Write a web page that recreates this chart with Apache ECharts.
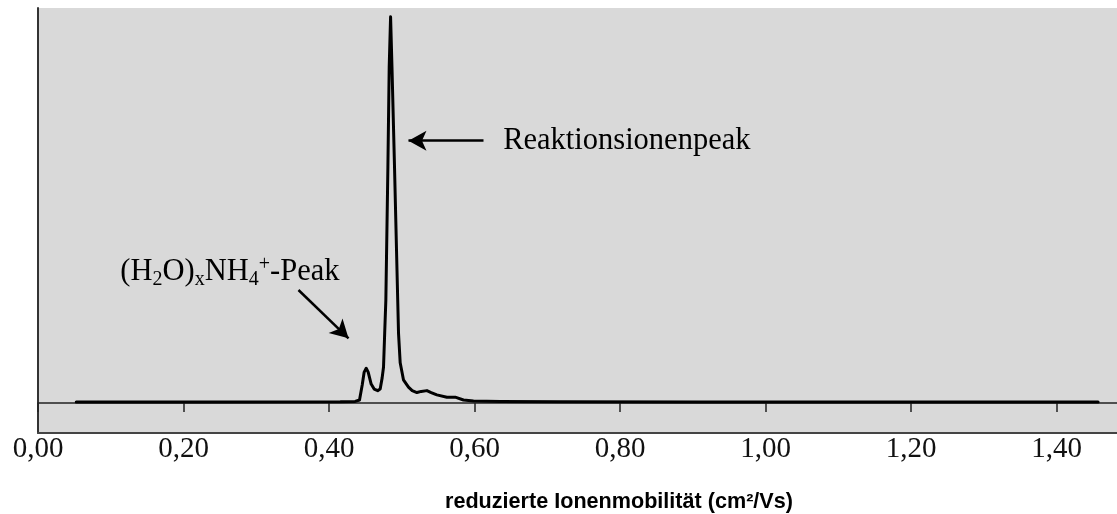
<!DOCTYPE html>
<html>
<head>
	<meta charset="utf-8">
	<title>Ionenmobilitätsspektrum</title>
	<style>
		html, body { margin: 0; padding: 0; background: #fff; }
		#chart { width: 1117px; height: 514px; }
	</style>
</head>
<body>
	<div id="chart"></div>
</body>
<script type="text/javascript" src="https://cdn.jsdelivr.net/npm/echarts@6/dist/echarts.min.js"></script>
<script type="text/javascript">
	// reduzierte Ionenmobilität (cm2/Vs) und relative Intensität
	var mobility = [0.0526, 0.2233, 0.4154, 0.436, 0.4419, 0.4456, 0.4483, 0.4511, 0.4538, 0.4579,
		0.462, 0.4669, 0.4703, 0.473, 0.4749, 0.4765, 0.4781, 0.4809, 0.4827, 0.4846,
		0.4865, 0.49, 0.4944, 0.4955, 0.4978, 0.5023, 0.5092, 0.5143, 0.5208, 0.5267,
		0.5345, 0.5404, 0.5482, 0.562, 0.5734, 0.5848, 0.5985, 0.635, 0.7177, 0.91, 1.457];
	var intensity = [0.26, 0.26, 0.3, 0.4, 0.78, 4.66, 8.0, 9.0, 8.0, 4.9,
		3.6, 3.2, 3.6, 6.5, 9.3, 18.1, 26.7, 61.1, 87.0, 100,
		87.0, 61.1, 26.7, 18.1, 10.4, 6.0, 4.1, 3.2, 2.7, 3.0,
		3.2, 2.7, 2.1, 1.5, 1.5, 0.78, 0.52, 0.4, 0.3, 0.26, 0.26];
	var tickValues = [0, 0.2, 0.4, 0.6, 0.8, 1.0, 1.2, 1.4];

	// Beschriftungen (Pfeil von -> nach, Textanker)
	var reactArrow = [[0.6123, 67.9], [0.5092, 67.9]];
	var reactLabel = [0.6393, 67.9];
	var clusterArrow = [[0.358, 29.25], [0.4268, 16.75]];
	var clusterLabel = [0.1132, 33.9];

	var points = [];
	for (var i = 0; i < mobility.length; i++) {
		points.push([mobility[i], intensity[i]]);
	}

	var myChart = echarts.init(document.getElementById('chart'));

	var serif = "'Liberation Serif', 'Times New Roman', serif";

	var option = {
		animation: false,
		title: {
			text: 'reduzierte Ionenmobilität (cm²/Vs)',
			left: 445,
			top: 491,
			padding: 0,
			textStyle: {
				fontFamily: "'Liberation Sans', Arial, sans-serif",
				fontWeight: 'bold',
				fontSize: 21.6,
				color: '#000'
			}
		},
		grid: {
			left: 38,
			right: 0,
			top: 8,
			bottom: 81,
			show: true,
			backgroundColor: '#d9d9d9',
			borderWidth: 0
		},
		xAxis: [
			{
				type: 'value',
				min: 0,
				max: 1.483,
				position: 'bottom',
				axisLine: {
					onZero: true,
					lineStyle: { color: '#222', width: 1.5 }
				},
				axisTick: {
					show: true,
					length: 9,
					customValues: tickValues,
					lineStyle: { color: '#222', width: 1.5 }
				},
				axisLabel: {
					customValues: tickValues,
					margin: 2,
					fontFamily: serif,
					fontSize: 29,
					color: '#111',
					formatter: function (v) { return v.toFixed(2).replace('.', ','); }
				},
				splitLine: { show: false }
			},
			{
				type: 'value',
				min: 0,
				max: 1.483,
				position: 'bottom',
				axisLine: {
					onZero: false,
					lineStyle: { color: '#444', width: 2 }
				},
				axisTick: { show: false },
				axisLabel: { show: false },
				splitLine: { show: false }
			}
		],
		yAxis: {
			type: 'value',
			min: -7.77,
			max: 102.25,
			axisLine: {
				show: true,
				onZero: false,
				lineStyle: { color: '#333', width: 2 }
			},
			axisTick: { show: false },
			axisLabel: { show: false },
			splitLine: { show: false }
		},
		series: [
			{
				name: 'Spektrum',
				type: 'line',
				data: points,
				showSymbol: false,
				smooth: false,
				lineStyle: { color: '#000', width: 3, join: 'round', cap: 'round' },
				markLine: {
					silent: true,
					animation: false,
					label: { show: false },
					lineStyle: { color: '#000', width: 2.5, type: 'solid' },
					data: [
						[
							{ coord: reactArrow[0], symbol: 'none' },
							{ coord: reactArrow[1], symbol: 'arrow', symbolSize: [15, 18] }
						],
						[
							{ coord: clusterArrow[0], symbol: 'none' },
							{ coord: clusterArrow[1], symbol: 'arrow', symbolSize: [15, 18] }
						]
					]
				},
				markPoint: {
					silent: true,
					animation: false,
					symbol: 'circle',
					symbolSize: 0,
					data: [
						{
							coord: reactLabel,
							label: {
								show: true,
								position: 'right',
								distance: 0,
								fontFamily: serif,
								fontSize: 30.5,
								color: '#000',
								formatter: 'Reaktionsionenpeak'
							}
						},
						{
							coord: clusterLabel,
							label: {
								show: true,
								position: 'right',
								distance: 0,
								fontFamily: serif,
								fontSize: 30.5,
								lineHeight: 35,
								color: '#000',
								formatter: '(H{sub|2}O){sub|x}NH{sub|4}{sup|+}-Peak',
								rich: {
									sub: {
										fontFamily: serif,
										fontSize: 20,
										lineHeight: 20,
										verticalAlign: 'bottom',
										color: '#000'
									},
									sup: {
										fontFamily: serif,
										fontSize: 20,
										lineHeight: 20,
										verticalAlign: 'top',
										color: '#000'
									}
								}
							}
						}
					]
				}
			}
		]
	};

	myChart.setOption(option);
</script>
</html>
